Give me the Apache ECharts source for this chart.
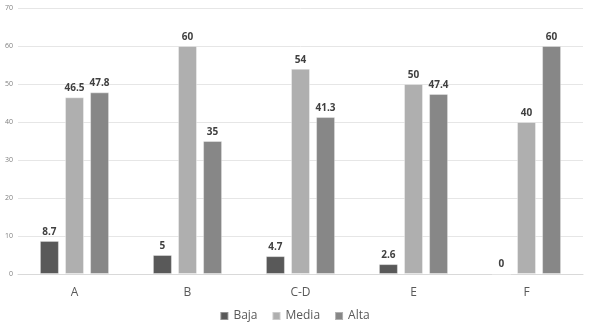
<!DOCTYPE html>
<html>
<head>
<meta charset="utf-8">
<script src="https://cdn.jsdelivr.net/npm/echarts@6/dist/echarts.min.js"></script>
<style>
  html, body { margin: 0; padding: 0; background: #fff; }
  #chart { width: 589px; height: 331px; }
</style>
</head>
<body>
<div id="chart"></div>
<script>
// datos
const categorias = ["A", "B", "C-D", "E", "F"];
const baja = [8.7, 5, 4.7, 2.6, 0];
const media = [46.5, 60, 54, 50, 40];
const alta = [47.8, 35, 41.3, 47.4, 60];

const chart = echarts.init(document.getElementById("chart"));

function serie(nombre, datos, color) {
    return {
        name: nombre,
        type: "bar",
        data: datos,
        barWidth: 19,
        barGap: "32%",
        itemStyle: { color: color, borderColor: "rgba(255,255,255,0.35)", borderWidth: 1 },
        label: {
            show: true,
            position: "top",
            distance: 4,
            fontFamily: "Open Sans",
            fontWeight: "bold",
            fontSize: 10,
            color: "#404040"
        }
    };
}

const option = {
    animation: false,
    textStyle: { fontFamily: "Open Sans" },
    grid: { left: 18, right: 6, top: 8, bottom: 57 },
    legend: {
        bottom: 4,
        left: "center",
        itemWidth: 8,
        itemHeight: 8,
        itemGap: 14,
        icon: "rect",
        textStyle: { fontSize: 12, color: "#595959", fontFamily: "Open Sans" }
    },
    xAxis: {
        type: "category",
        data: categorias,
        axisLine: { lineStyle: { color: "#d9d9d9" } },
        axisTick: { show: false },
        axisLabel: { fontSize: 12, color: "#595959", margin: 13 }
    },
    yAxis: {
        type: "value",
        min: 0,
        max: 70,
        interval: 10,
        axisLine: { show: false },
        axisTick: { show: false },
        axisLabel: { fontSize: 7, color: "#7f7f7f", margin: 5 },
        splitLine: { lineStyle: { color: "#e6e6e6" } }
    },
    series: [
        serie("Baja", baja, "#595959"),
        serie("Media", media, "#afafaf"),
        serie("Alta", alta, "#878787")
    ]
};

chart.setOption(option);
</script>
</body>
</html>
